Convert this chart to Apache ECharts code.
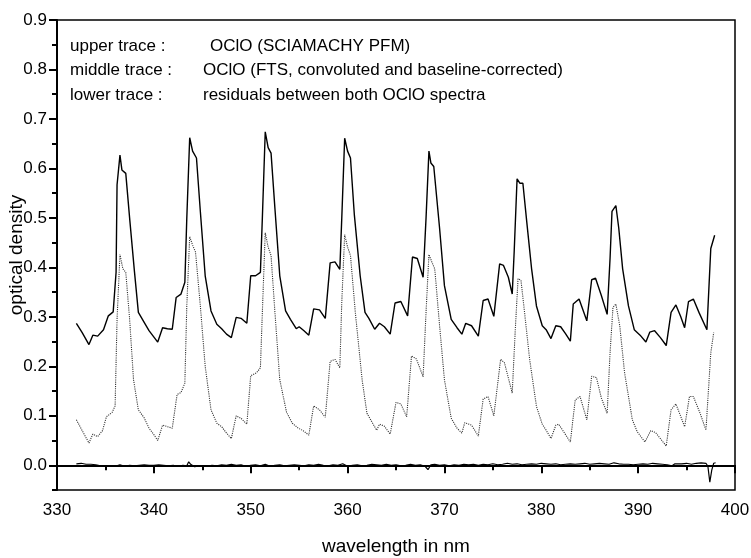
<!DOCTYPE html>
<html>
<head>
<meta charset="utf-8">
<script src="https://cdn.jsdelivr.net/npm/echarts@6/dist/echarts.min.js"></script>
<style>
html,body{margin:0;padding:0;background:#fff;}
#chart{width:751px;height:558px;}
</style>
</head>
<body>
<div id="chart"></div>
<script>
// ---- data ----
var xTicks = [330, 340, 350, 360, 370, 380, 390, 400];
var yTicks = [0.0, 0.1, 0.2, 0.3, 0.4, 0.5, 0.6, 0.7, 0.8, 0.9];
var yMinorTicks = [-0.05, 0.05, 0.15, 0.25, 0.35, 0.45, 0.55, 0.65, 0.75, 0.85];

var annotationLabels = ["upper trace :", "middle trace :", "lower trace :"];
var annotationTexts = ["OClO (SCIAMACHY PFM)", "OClO (FTS, convoluted and baseline-corrected)", "residuals between both OClO spectra"];

// upper trace: OClO (SCIAMACHY PFM)  [wavelength nm, optical density]
var upperTrace = [
[332.0,0.287],[332.6,0.268],[333.3,0.244],[333.7,0.263],[334.2,0.261],[334.8,0.274],[335.3,0.302],[335.8,0.310],
[336.1,0.390],[336.2,0.567],[336.5,0.627],[336.7,0.597],[337.1,0.590],[337.5,0.499],[338.0,0.391],[338.4,0.309],
[339.0,0.289],[339.5,0.272],[340.4,0.249],[340.9,0.278],[341.4,0.276],[341.9,0.275],[342.3,0.339],[342.8,0.346],
[343.2,0.370],[343.4,0.499],[343.7,0.662],[344.0,0.635],[344.4,0.621],[344.8,0.513],[345.3,0.383],[345.9,0.312],
[346.5,0.285],[347.0,0.276],[347.5,0.265],[348.0,0.258],[348.5,0.299],[349.0,0.297],[349.6,0.287],[350.0,0.383],
[350.5,0.383],[351.0,0.390],[351.2,0.499],[351.5,0.674],[351.8,0.642],[352.1,0.631],[352.5,0.519],[353.0,0.383],
[353.6,0.312],[354.1,0.295],[354.7,0.276],[355.0,0.280],[355.5,0.272],[356.0,0.263],[356.5,0.316],[357.1,0.314],
[357.7,0.297],[358.2,0.409],[358.7,0.411],[359.2,0.396],[359.4,0.499],[359.7,0.661],[360.0,0.635],[360.3,0.621],
[360.7,0.506],[361.3,0.383],[361.8,0.309],[362.2,0.297],[362.8,0.275],[363.3,0.287],[363.8,0.280],[364.4,0.265],
[364.9,0.328],[365.5,0.331],[366.2,0.302],[366.7,0.421],[367.2,0.418],[367.8,0.380],[368.1,0.499],[368.4,0.635],
[368.6,0.611],[368.9,0.604],[369.5,0.479],[370.0,0.363],[370.7,0.295],[371.3,0.278],[371.8,0.265],[372.2,0.287],
[372.8,0.282],[373.5,0.261],[374.0,0.333],[374.5,0.336],[375.1,0.301],[375.7,0.407],[376.1,0.404],[376.6,0.380],
[377.0,0.346],[377.2,0.431],[377.5,0.579],[377.8,0.570],[378.1,0.570],[378.5,0.492],[379.0,0.397],[379.5,0.322],
[380.1,0.282],[380.5,0.274],[381.0,0.256],[381.5,0.282],[382.0,0.280],[382.5,0.266],[383.0,0.251],[383.3,0.326],
[383.9,0.336],[384.7,0.292],[385.2,0.375],[385.6,0.378],[386.2,0.343],[386.8,0.305],[387.1,0.418],[387.3,0.513],
[387.5,0.516],[387.7,0.525],[388.0,0.479],[388.4,0.397],[389.0,0.322],[389.6,0.274],[390.2,0.263],[390.8,0.249],
[391.2,0.269],[391.7,0.272],[392.3,0.258],[392.9,0.242],[393.4,0.309],[393.9,0.324],[394.4,0.300],[394.8,0.278],
[395.2,0.331],[395.7,0.336],[396.3,0.308],[397.1,0.274],[397.5,0.438],[397.9,0.465]
];

// middle trace: OClO (FTS, convoluted and baseline-corrected)
var middleTrace = [
[332.0,0.092],[332.6,0.070],[333.3,0.045],[333.7,0.063],[334.2,0.058],[334.7,0.070],[335.1,0.098],[335.7,0.107],
[336.0,0.120],[336.2,0.295],[336.5,0.426],[336.8,0.397],[337.1,0.390],[337.5,0.295],[337.9,0.173],[338.4,0.112],
[339.0,0.096],[339.5,0.075],[340.0,0.062],[340.4,0.050],[340.9,0.081],[341.4,0.078],[341.9,0.075],[342.4,0.143],
[342.8,0.147],[343.2,0.166],[343.4,0.322],[343.7,0.462],[344.0,0.445],[344.3,0.431],[344.8,0.322],[345.3,0.200],
[345.9,0.112],[346.5,0.085],[347.0,0.078],[347.5,0.065],[348.0,0.054],[348.5,0.100],[349.0,0.095],[349.6,0.083],
[350.0,0.181],[350.6,0.187],[351.0,0.197],[351.3,0.363],[351.5,0.470],[351.8,0.441],[352.1,0.424],[352.5,0.309],
[353.0,0.173],[353.7,0.107],[354.3,0.085],[354.9,0.075],[355.4,0.070],[356.0,0.061],[356.5,0.120],[357.1,0.112],
[357.7,0.097],[358.2,0.210],[358.7,0.214],[359.2,0.197],[359.4,0.329],[359.7,0.466],[360.0,0.441],[360.3,0.424],
[360.8,0.309],[361.5,0.173],[362.0,0.105],[362.5,0.088],[363.0,0.071],[363.3,0.083],[363.8,0.079],[364.4,0.063],
[365.0,0.127],[365.5,0.124],[366.1,0.098],[366.6,0.221],[367.1,0.215],[367.8,0.179],[368.1,0.309],[368.4,0.426],
[368.7,0.411],[369.0,0.397],[369.5,0.282],[370.0,0.173],[370.7,0.095],[371.3,0.075],[371.8,0.065],[372.1,0.086],
[372.8,0.081],[373.5,0.059],[374.0,0.134],[374.5,0.139],[375.1,0.100],[375.8,0.214],[376.2,0.207],[377.0,0.146],
[377.3,0.268],[377.6,0.377],[377.9,0.374],[378.2,0.322],[378.8,0.214],[379.5,0.119],[380.1,0.083],[380.5,0.071],
[381.0,0.054],[381.5,0.081],[381.8,0.083],[382.4,0.065],[383.0,0.047],[383.5,0.132],[384.0,0.139],[384.7,0.092],
[385.2,0.180],[385.7,0.177],[386.2,0.136],[386.8,0.105],[387.1,0.227],[387.4,0.319],[387.7,0.326],[388.1,0.282],
[388.6,0.187],[389.4,0.092],[389.9,0.068],[390.7,0.047],[391.3,0.070],[391.8,0.066],[392.9,0.039],[393.4,0.112],
[393.9,0.124],[394.8,0.078],[395.3,0.139],[395.7,0.139],[396.4,0.105],[397.0,0.071],[397.5,0.227],[397.8,0.268]
];

// lower trace: residuals between both OClO spectra
var residualTrace = [
[332.0,0.003],[332.5,0.004],[333.0,0.002],[333.5,0.002],[334.0,0.001],[334.5,-0.001],[335.0,-0.002],[335.5,-0.001],
[336.0,-0.002],[336.5,0.001],[337.0,-0.002],[337.5,0.000],[338.0,-0.001],[338.5,0.000],[339.0,0.001],[339.5,0.000],
[340.0,0.000],[340.5,0.001],[341.0,0.000],[341.5,-0.001],[342.0,0.000],[342.5,-0.002],[343.0,0.000],[343.4,-0.001],
[343.6,0.007],[343.8,0.002],[344.2,-0.003],[344.6,-0.002],[345.0,-0.001],[345.5,-0.002],[346.0,0.000],[346.5,-0.001],
[347.0,0.001],[347.5,0.000],[348.0,0.002],[348.5,0.000],[349.0,0.001],[349.5,-0.002],[350.0,0.000],[350.5,0.001],
[351.0,-0.001],[351.5,0.002],[352.0,-0.002],[352.5,0.000],[353.0,0.001],[353.5,-0.001],[354.0,0.000],[354.5,0.001],
[355.0,0.000],[355.5,-0.001],[356.0,0.001],[356.5,0.000],[357.0,0.002],[357.5,0.000],[358.0,-0.001],[358.5,0.001],
[359.0,0.000],[359.5,0.003],[360.0,-0.002],[360.5,0.000],[361.0,0.001],[361.5,-0.001],[362.0,0.000],[362.5,0.002],
[363.0,0.001],[363.5,0.000],[364.0,0.002],[364.5,0.000],[365.0,0.001],[365.5,-0.001],[366.0,0.000],[366.5,0.002],
[367.0,0.000],[367.5,0.001],[368.0,-0.002],[368.3,-0.009],[368.6,0.001],[369.0,0.002],[369.5,0.000],[370.0,0.001],
[370.5,-0.001],[371.0,0.001],[371.5,0.000],[372.0,0.002],[372.5,0.001],[373.0,0.002],[373.5,0.000],[374.0,0.002],
[374.5,0.001],[375.0,0.003],[375.5,0.001],[376.0,0.002],[376.5,0.004],[377.0,0.002],[377.5,0.003],[378.0,0.001],
[378.5,0.002],[379.0,0.003],[379.5,0.002],[380.0,0.004],[380.5,0.003],[381.0,0.002],[381.5,0.003],[382.0,0.001],
[382.5,0.002],[383.0,0.003],[383.5,0.002],[384.0,0.003],[384.5,0.004],[385.0,0.002],[385.5,0.003],[386.0,0.004],
[386.5,0.003],[387.0,0.002],[387.5,0.005],[388.0,0.003],[388.5,0.002],[389.0,0.002],[389.5,0.001],[390.0,0.002],
[390.5,0.003],[391.0,0.002],[391.5,0.004],[392.0,0.003],[392.5,0.002],[393.0,0.001],[393.5,-0.001],[393.8,0.003],
[394.0,0.004],[394.5,0.003],[395.0,0.004],[395.5,0.002],[396.0,0.004],[396.5,0.005],[397.0,0.004],[397.2,-0.002],
[397.4,-0.034],[397.6,-0.010],[397.8,0.004],[398.0,0.005]
];

// ---- chart ----
var FONT = '"Liberation Sans", Arial, sans-serif';
var chart = echarts.init(document.getElementById('chart'), null, {renderer: 'canvas'});

var GRID = {left: 57, right: 16, top: 20, bottom: 68};

var graphics = [];
var rowTops = [38, 62, 87];
var textLefts = [210, 203, 203];
for (var i = 0; i < annotationLabels.length; i++) {
  graphics.push({type: 'text', left: 70, top: rowTops[i], silent: true,
    style: {text: annotationLabels[i], fill: '#000', font: '17px ' + FONT}});
  graphics.push({type: 'text', left: textLefts[i], top: rowTops[i], silent: true,
    style: {text: annotationTexts[i], fill: '#000', font: '17px ' + FONT}});
}

var option = {
  animation: false,
  backgroundColor: '#fff',
  grid: {left: GRID.left, right: GRID.right, top: GRID.top, bottom: GRID.bottom,
    outerBoundsMode: 'none', containLabel: false,
    show: true, borderColor: '#000', borderWidth: 1.5, backgroundColor: 'transparent'},
  xAxis: [{
    type: 'value', min: xTicks[0], max: xTicks[xTicks.length - 1], interval: 10,
    name: 'wavelength in nm', nameLocation: 'middle', nameGap: 47, nameMoveOverlap: false,
    nameTextStyle: {fontFamily: FONT, fontSize: 19, color: '#000'},
    axisLine: {show: true, lineStyle: {color: '#000', width: 2}},
    axisTick: {show: true, inside: false, length: 8, lineStyle: {color: '#000', width: 2}},
    minorTick: {show: true, splitNumber: 2, length: 5, lineStyle: {color: '#000', width: 2}},
    axisLabel: {margin: 12, fontFamily: FONT, fontSize: 17, color: '#000',
      customValues: xTicks, formatter: function (v) { return String(v); }},
    splitLine: {show: false}
  }],
  yAxis: [{
    type: 'value', min: -0.05, max: 0.9,
    name: 'optical density', nameLocation: 'middle', nameGap: 31, nameRotate: 90, nameMoveOverlap: false,
    nameTextStyle: {fontFamily: FONT, fontSize: 19, color: '#000'},
    axisLine: {show: true, lineStyle: {color: '#000', width: 2}},
    axisTick: {show: true, inside: false, length: 8, customValues: yTicks, lineStyle: {color: '#000', width: 2}},
    axisLabel: {margin: 10, fontFamily: FONT, fontSize: 17, color: '#000',
      customValues: yTicks, formatter: function (v) { return v.toFixed(1); }},
    splitLine: {show: false}
  }, {
    type: 'value', min: -0.05, max: 0.9, position: 'left', offset: 0,
    axisLine: {show: false},
    axisTick: {show: true, inside: false, length: 5, customValues: yMinorTicks, lineStyle: {color: '#000', width: 2}},
    axisLabel: {show: false},
    splitLine: {show: false}
  }],
  graphic: graphics,
  series: [{
    name: 'upper', type: 'line', data: upperTrace, showSymbol: false, symbol: 'none',
    lineStyle: {color: '#000', width: 1.4, type: 'solid'}, z: 3
  }, {
    name: 'middle', type: 'line', data: middleTrace, showSymbol: false, symbol: 'none',
    lineStyle: {color: '#333', width: 1.1, type: 'dotted'}, z: 2
  }, {
    name: 'lower', type: 'line', data: residualTrace, showSymbol: false, symbol: 'none',
    lineStyle: {color: '#000', width: 1.2, type: 'solid'}, z: 3
  }]
};
chart.setOption(option);
</script>
</body>
</html>
